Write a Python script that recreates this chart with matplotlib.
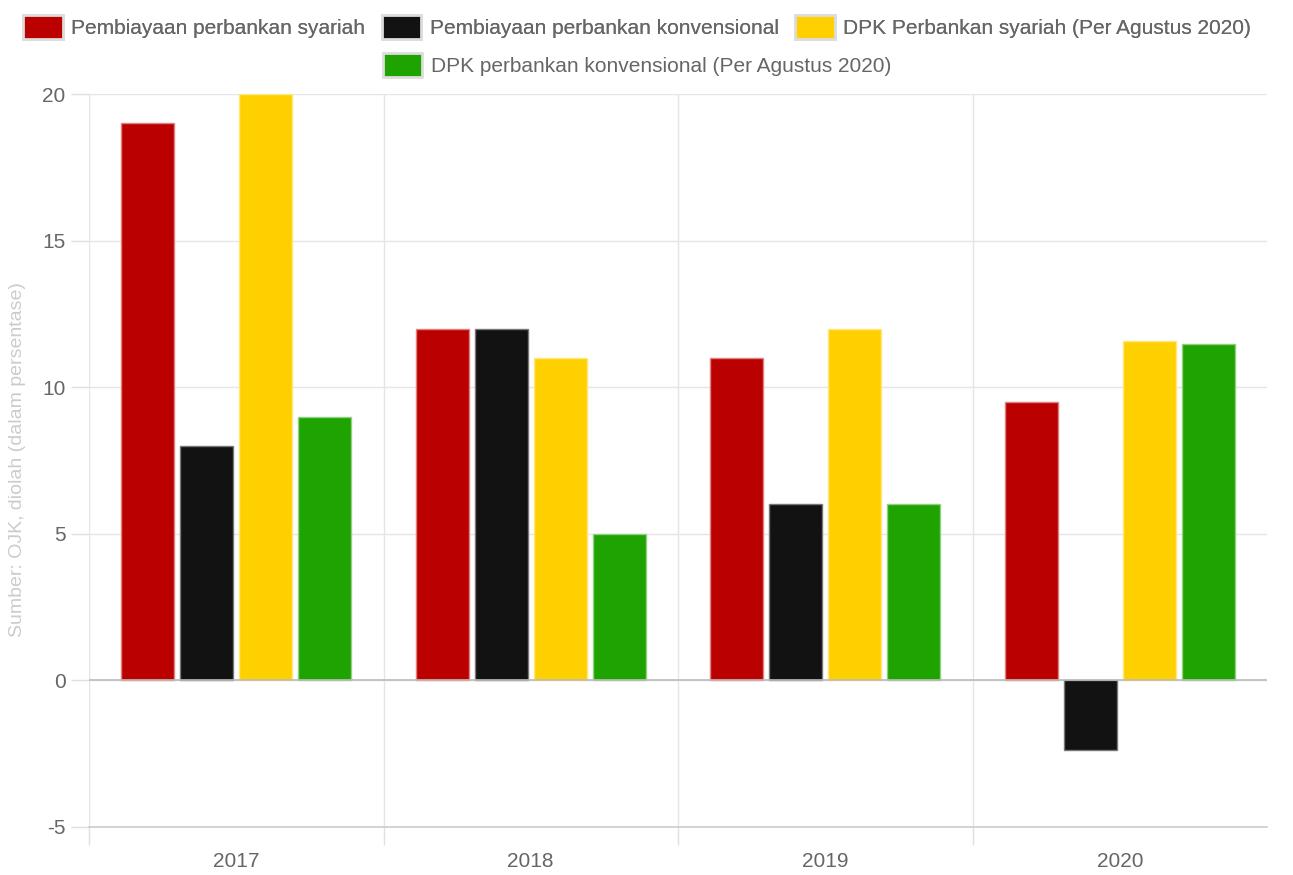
import matplotlib.pyplot as plt
import numpy as np
from matplotlib.patches import Patch

plt.rcParams['font.family'] = ['Liberation Sans', 'DejaVu Sans']

years = ['2017', '2018', '2019', '2020']
series_names = [
    'Pembiayaan perbankan syariah',
    'Pembiayaan perbankan konvensional',
    'DPK Perbankan syariah (Per Agustus 2020)',
    'DPK perbankan konvensional (Per Agustus 2020)',
]
pembiayaan_syariah = [19, 12, 11, 9.5]
pembiayaan_konvensional = [8, 12, 6, -2.37]
dpk_syariah = [20, 11, 12, 11.56]
dpk_konvensional = [9, 5, 6, 11.49]

colors = ['#bb0000', '#121212', '#ffd000', '#1fa300']
edges = ['#e08080', '#777777', '#ffe680', '#90d080']

fig = plt.figure(figsize=(12.93, 8.75), dpi=100)
ax = fig.add_axes([89 / 1293, 1 - 827 / 875, (1267 - 89) / 1293, (827 - 94) / 875])

x = np.arange(len(years))
slot = 0.8 / 4
width = slot * 0.9
all_series = [pembiayaan_syariah, pembiayaan_konvensional, dpk_syariah, dpk_konvensional]
for i, vals in enumerate(all_series):
    ax.bar(x - 0.4 + slot * (i + 0.5), vals, width, color=colors[i],
           edgecolor=edges[i], linewidth=1, zorder=3)

ax.set_xlim(-0.5, 3.5)
ax.set_ylim(-5, 20)
ax.set_yticks([-5, 0, 5, 10, 15, 20])
ax.set_yticklabels(['-5', '0', '5', '10', '15', '20'])
ax.set_xticks(x)
ax.set_xticklabels(years)
ax.set_xticks([-0.5, 0.5, 1.5, 2.5], minor=True)

ax.tick_params(axis='x', which='major', length=0, pad=18, labelsize=15, labelcolor='#666666')
ax.tick_params(axis='x', which='minor', length=13, color='#e0e0e0', width=1)
ax.tick_params(axis='y', length=13, color='#e0e0e0', width=1, pad=4, labelsize=15,
               labelcolor='#666666')

ax.grid(axis='y', color='#e5e5e5', linewidth=1, zorder=0)
ax.grid(axis='x', which='minor', color='#e5e5e5', linewidth=1, zorder=0)
ax.axhline(0, color='#bbbbbb', linewidth=1.2, zorder=4)

for s in ['top', 'right', 'left']:
    ax.spines[s].set_visible(False)
ax.spines['bottom'].set_color('#cccccc')
ax.spines['bottom'].set_linewidth(1.2)

fig.text(18 / 1293, 1 - 460 / 875, 'Sumber: OJK, diolah (dalam persentase)', color='#cccccc',
         fontsize=14, rotation=90, ha='center', va='center')

handles = [Patch(facecolor=colors[i], edgecolor='#dddddd', linewidth=2) for i in range(4)]
leg1 = fig.legend(handles[:3], series_names[:3], loc='center', bbox_to_anchor=(637 / 1293, 1 - 27 / 875),
                  ncol=3, frameon=False, fontsize=15, handlelength=1.9, handleheight=1.4,
                  columnspacing=0.8, handletextpad=0.4, labelcolor='#666666')
fig.legend(handles[3:], series_names[3:], loc='center', bbox_to_anchor=(637 / 1293, 1 - 65 / 875),
           ncol=1, frameon=False, fontsize=15, handlelength=1.9, handleheight=1.4,
           handletextpad=0.4, labelcolor='#666666')
fig.add_artist(leg1)

fig.savefig('out.png', dpi=100)
